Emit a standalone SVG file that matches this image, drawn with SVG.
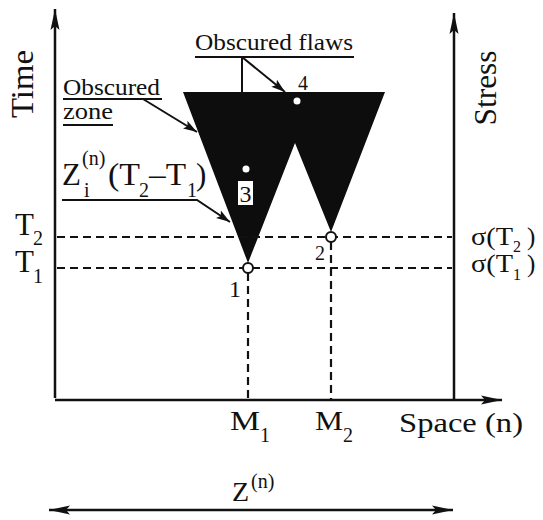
<svg xmlns="http://www.w3.org/2000/svg" width="543" height="520" viewBox="0 0 543 520" font-family="'Liberation Serif', 'Times New Roman', Times, serif">
<defs>
<style>
text{font-family:'Liberation Serif','Times New Roman',Times,serif;fill:#111}
.ax{stroke:#111;stroke-width:2.5;fill:none}
.ln{stroke:#111;stroke-width:2;fill:none}
.dash{stroke:#111;stroke-width:2.2;fill:none;stroke-dasharray:8 5}
.lbl{font-size:24px}
.big{font-size:31px}
.sub{font-size:20px}
.sig{font-size:25px}
.ssub{font-size:16px}
</style>
<marker id="big" markerUnits="userSpaceOnUse" markerWidth="22" markerHeight="10" refX="21" refY="5" orient="auto-start-reverse"><path d="M0,0.5 L21,5 L0,9.5 L4,5 Z" fill="#111"/></marker>
<marker id="sm" markerUnits="userSpaceOnUse" markerWidth="15" markerHeight="10" refX="14" refY="5" orient="auto"><path d="M0,0.5 L14,5 L0,9.5 L3,5 Z" fill="#111"/></marker>
</defs>
<rect width="543" height="520" fill="#fff"/>

<g id="zones">
<polygon points="183,92 385,92 331,232 295,143 248,263" fill="#0d0d0d"/>
</g>

<g id="connectors">
<path class="ax" d="M55,398 L55,9" marker-end="url(#big)"/>
<path class="ax" d="M55,400 L502,400" marker-end="url(#big)"/>
<path class="ax" d="M454,400 L454,13" marker-end="url(#big)"/>
<path class="dash" d="M57,237 L452,237"/>
<path class="dash" d="M57,268 L452,268"/>
<path class="dash" d="M248,273 L248,399"/>
<path class="dash" d="M331,242 L331,399"/>
<path class="ln" d="M143,99 L197,132" marker-end="url(#sm)"/>
<path class="ln" d="M242,57 L242,94"/>
<path class="ln" d="M242,57 L285,92" marker-end="url(#sm)"/>
<path class="ln" d="M62,200 L197,200 L230,222" marker-end="url(#sm)"/>
<path class="ax" d="M49,510 L453,510" marker-start="url(#big)" marker-end="url(#big)"/>
</g>

<g id="point1">
<circle cx="248" cy="268" r="5" fill="#fff" stroke="#111" stroke-width="2"/>
<text class="lbl" x="235" y="297" text-anchor="middle">1</text>
</g>
<g id="point2">
<circle cx="331" cy="237" r="5" fill="#fff" stroke="#111" stroke-width="2"/>
<text class="sub" x="320" y="260" text-anchor="middle">2</text>
</g>
<g id="point3">
<circle cx="246" cy="169" r="3.5" fill="#fff"/>
<rect x="238" y="181" width="15" height="24" fill="#fff"/>
<text class="lbl" x="245.5" y="202" text-anchor="middle">3</text>
</g>
<g id="point4">
<circle cx="297" cy="101" r="3.5" fill="#fff"/>
<text class="sub" x="303" y="90" text-anchor="middle">4</text>
</g>

<g id="label-flaws">
<text class="lbl" x="195" y="50" textLength="158" lengthAdjust="spacingAndGlyphs">Obscured flaws</text>
<path class="ln" d="M195,57 L354,57"/>
</g>
<g id="label-zone">
<text class="lbl" x="63" y="95" textLength="97" lengthAdjust="spacingAndGlyphs">Obscured</text>
<path class="ln" d="M63,99 L162,99"/>
<text class="lbl" x="63" y="119" textLength="50" lengthAdjust="spacingAndGlyphs">zone</text>
<path class="ln" d="M63,125 L113,125"/>
</g>
<g id="label-z">
<text class="big" x="62" y="185">Z</text>
<text class="sub" x="82" y="165">(n)</text>
<text class="sub" x="84" y="197">i</text>
<text class="big" x="108" y="185" textLength="32" lengthAdjust="spacingAndGlyphs">(T</text>
<text class="sub" x="139" y="197">2</text>
<text class="big" x="149" y="185" textLength="37" lengthAdjust="spacingAndGlyphs">–T</text>
<text class="sub" x="187" y="197">1</text>
<text class="big" x="196" y="185">)</text>
</g>

<g id="time-axis">
<text class="big" transform="translate(33,84) rotate(-90)" text-anchor="middle" textLength="68" lengthAdjust="spacingAndGlyphs">Time</text>
<text class="big" x="15" y="235">T</text>
<text class="sub" x="33" y="245">2</text>
<text class="big" x="15" y="272">T</text>
<text class="sub" x="33" y="283">1</text>
</g>

<g id="stress-axis">
<text class="big" transform="translate(496,88) rotate(-90)" text-anchor="middle" textLength="75" lengthAdjust="spacingAndGlyphs">Stress</text>
<text class="sig" x="471" y="245" textLength="42" lengthAdjust="spacingAndGlyphs">σ(T</text>
<text class="ssub" x="513" y="252">2</text>
<text class="sig" x="527" y="245">)</text>
<text class="sig" x="471" y="272" textLength="42" lengthAdjust="spacingAndGlyphs">σ(T</text>
<text class="ssub" x="513" y="280">1</text>
<text class="sig" x="527" y="272">)</text>
</g>

<g id="space-axis">
<text class="big" x="230" y="430" style="font-size:27px" textLength="30" lengthAdjust="spacingAndGlyphs">M</text>
<text class="sub" x="260" y="442">1</text>
<text class="big" x="315" y="430" style="font-size:27px" textLength="28" lengthAdjust="spacingAndGlyphs">M</text>
<text class="sub" x="343" y="442">2</text>
<text class="big" x="399" y="432" style="font-size:27px" textLength="124" lengthAdjust="spacingAndGlyphs">Space (n)</text>
</g>

<g id="extent">
<text class="big" x="232" y="501" style="font-size:28px">Z</text>
<text class="sub" x="251" y="488">(n)</text>
</g>
</svg>
